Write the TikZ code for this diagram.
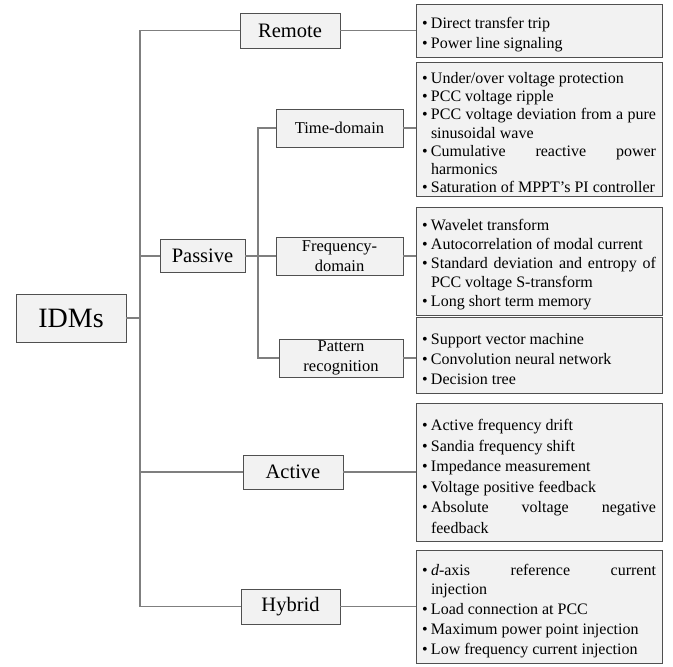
\documentclass[tikz,border=0pt]{standalone}
\usepackage{fontspec}
\setmainfont{Liberation Serif}
\definecolor{boxfill}{HTML}{F2F2F2}
\definecolor{boxline}{HTML}{505050}
\definecolor{wiregray}{HTML}{7F7F7F}
\newcommand{\bul}{\par\noindent\hangindent=9pt\hangafter=1\makebox[9pt][l]{\textbullet}}

\begin{document}
\begin{tikzpicture}[x=1pt,y=-1pt,inner sep=0pt,outer sep=0pt,
catblock/.style={draw=boxline,fill=boxfill,rectangle,line width=1pt,font=\fontsize{20.5}{24}\selectfont},
subblock/.style={draw=boxline,fill=boxfill,rectangle,line width=1pt,minimum height=38pt,align=center,font=\fontsize{16.5}{20}\selectfont},
listblock/.style={draw=boxline,fill=boxfill,rectangle,line width=1pt,anchor=west,inner xsep=6pt,text width=234pt,align=justify,font=\fontsize{16}{19}\selectfont},
wire/.style={draw=wiregray,line width=1.2pt}]

\useasboundingbox (0,0) rectangle (673,667);

\coordinate (trunk) at (140,0);
\coordinate (branch) at (258,0);

\draw (71,318) node[catblock,minimum width=110pt,minimum height=48pt,font=\fontsize{28}{32}\selectfont] (idms) {IDMs};
\draw (290,30.5) node[catblock,minimum width=100pt,minimum height=35pt] (remote) {Remote};
\draw (202.5,256) node[catblock,minimum width=85pt,minimum height=33pt] (passive) {Passive};
\draw (293,472) node[catblock,minimum width=100pt,minimum height=34pt] (active) {Active};
\draw (290.5,606.5) node[catblock,minimum width=99pt,minimum height=35pt] (hybrid) {Hybrid};

\draw (339.5,128) node[subblock,minimum width=127pt] (time) {Time-domain};
\draw (339.5,256) node[subblock,minimum width=127pt] (freq) {Frequency-\\domain};
\draw (341,358) node[subblock,minimum width=124pt] (pattern) {Pattern\\recognition};

\draw (416,30.5) node[listblock,minimum height=53pt,font=\fontsize{16}{20}\selectfont] (remotelist)
  {\bul Direct transfer trip \bul Power line signaling\par};
\draw (416,129) node[listblock,minimum height=134pt,font=\fontsize{16}{18.3}\selectfont] (timelist)
  {\bul Under/over voltage protection \bul PCC voltage ripple
   \bul PCC voltage deviation from a pure\linebreak sinusoidal wave
   \bul Cumulative reactive power\linebreak harmonics
   \bul Saturation of MPPT’s PI controller\par};
\draw (416,261) node[listblock,minimum height=108pt] (freqlist)
  {\bul Wavelet transform \bul Autocorrelation of modal current
   \bul Standard deviation and entropy of\linebreak PCC voltage S-transform
   \bul Long short term memory\par};
\draw (416,355) node[listblock,minimum height=76pt,font=\fontsize{16}{20}\selectfont] (patternlist)
  {\bul Support vector machine \bul Convolution neural network \bul Decision tree\par};
\draw (416,472) node[listblock,minimum height=138pt,font=\fontsize{16}{20.5}\selectfont] (activelist)
  {\bul Active frequency drift \bul Sandia frequency shift \bul Impedance measurement
   \bul Voltage positive feedback \bul Absolute voltage negative\linebreak feedback\par};
\draw (416,606.5) node[listblock,minimum height=113pt,font=\fontsize{16}{19.8}\selectfont] (hybridlist)
  {\bul \textit{d}-axis reference current\linebreak injection \bul Load connection at PCC
   \bul Maximum power point injection \bul Low frequency current injection\par};

\draw[wire] (remote.west) -- (remote.west -| trunk) -- (hybrid.west -| trunk) -- (hybrid.west);
\draw[wire] (idms.east) -- (idms.east -| trunk);
\draw[wire] (passive.west) -- (passive.west -| trunk);
\draw[wire] (active.west) -- (active.west -| trunk);
\draw[wire] (time.west) -- (time.west -| branch) -- (pattern.west -| branch) -- (pattern.west);
\draw[wire] (passive.east) -- (freq.west);

\draw[wire] (remote.east) -- (remote.east -| remotelist.west);
\draw[wire] (time.east) -- (time.east -| timelist.west);
\draw[wire] (freq.east) -- (freq.east -| freqlist.west);
\draw[wire] (pattern.east) -- (pattern.east -| patternlist.west);
\draw[wire] (active.east) -- (active.east -| activelist.west);
\draw[wire] (hybrid.east) -- (hybrid.east -| hybridlist.west);

\end{tikzpicture}
\end{document}
